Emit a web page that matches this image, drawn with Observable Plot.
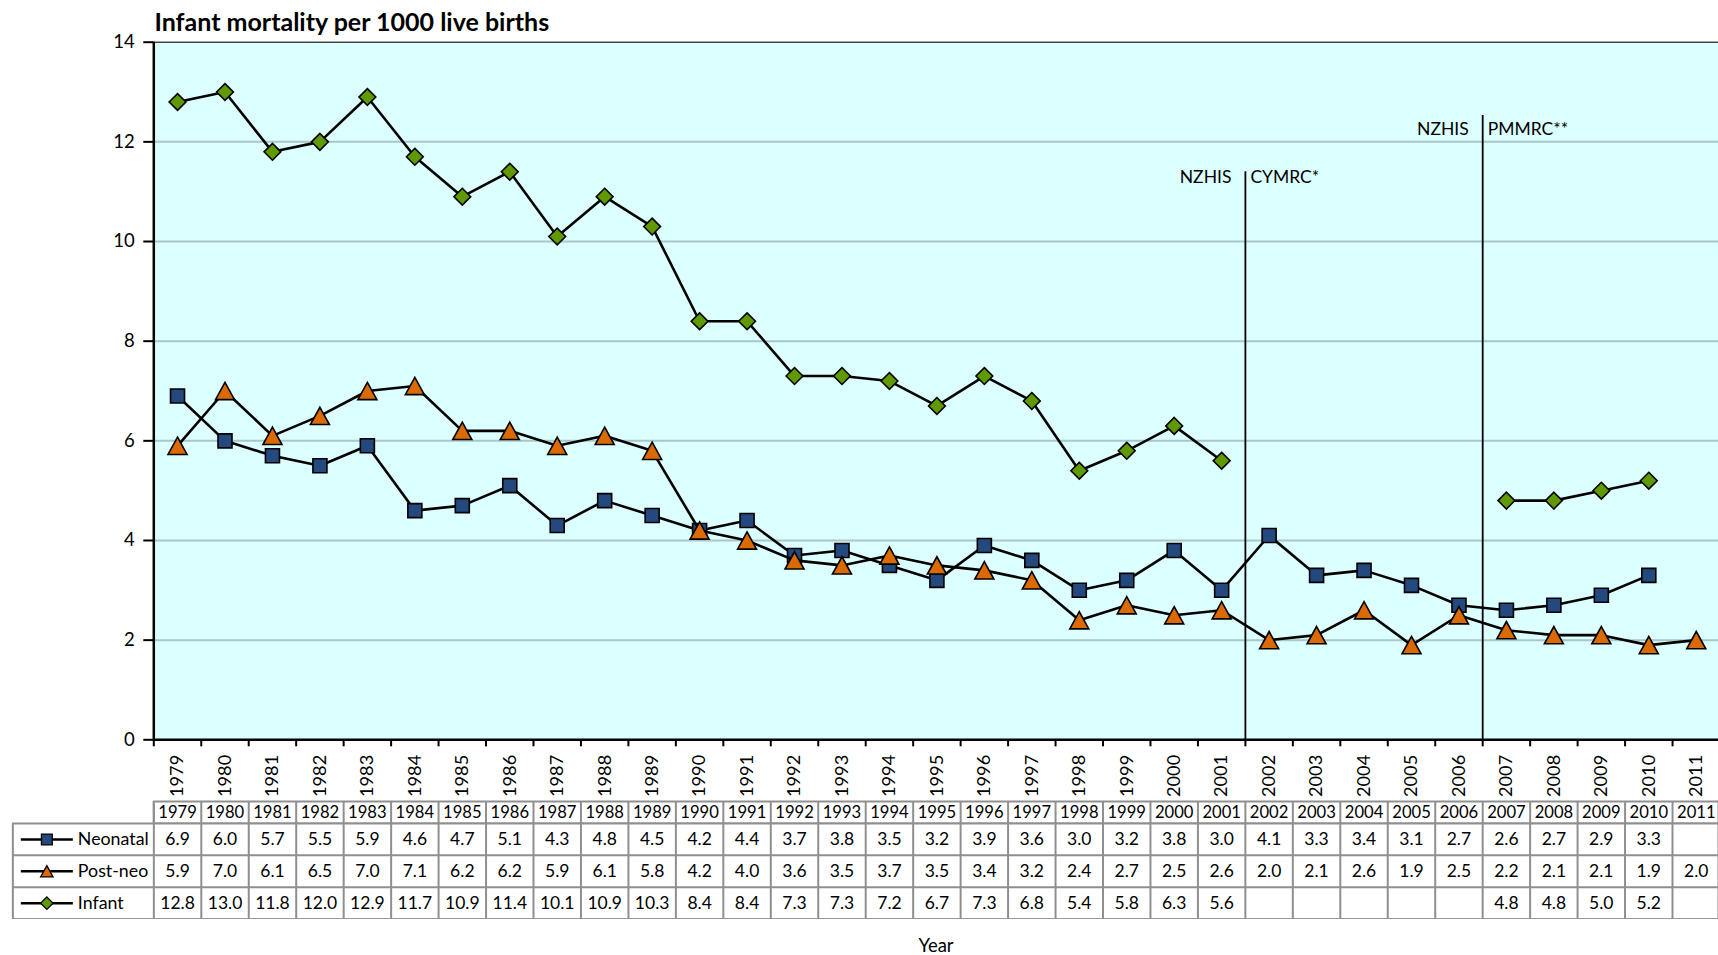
<!DOCTYPE html>
<html>
<head>
<meta charset="utf-8">
<script src="https://cdn.jsdelivr.net/npm/d3@7"></script>
<script src="https://cdn.jsdelivr.net/npm/@observablehq/plot@0.6"></script>
<style>
  html, body { margin: 0; padding: 0; background: #ffffff; overflow: hidden; }
  #root { position: relative; width: 1718px; height: 955px; font-family: Lato, "Open Sans", sans-serif; color: #000; }
  #root > * { position: absolute; }
  .title { left: 154.5px; top: 9px; font-size: 25px; font-weight: 700; line-height: 1; white-space: nowrap; }
  .xlabel { left: 936px; top: 934px; transform: translateX(-50%); font-size: 18.5px; line-height: 1.2; }
</style>
</head>
<body>
<div id="root">
  <div class="title">Infant mortality per 1000 live births</div>
</div>
<script>
// ---------------- data ----------------
const years = [1979, 1980, 1981, 1982, 1983, 1984, 1985, 1986, 1987, 1988, 1989, 1990, 1991, 1992, 1993, 1994, 1995,
               1996, 1997, 1998, 1999, 2000, 2001, 2002, 2003, 2004, 2005, 2006, 2007, 2008, 2009, 2010, 2011];
const neonatal = [6.9, 6.0, 5.7, 5.5, 5.9, 4.6, 4.7, 5.1, 4.3, 4.8, 4.5, 4.2, 4.4, 3.7, 3.8, 3.5, 3.2,
                  3.9, 3.6, 3.0, 3.2, 3.8, 3.0, 4.1, 3.3, 3.4, 3.1, 2.7, 2.6, 2.7, 2.9, 3.3, null];
const postNeo = [5.9, 7.0, 6.1, 6.5, 7.0, 7.1, 6.2, 6.2, 5.9, 6.1, 5.8, 4.2, 4.0, 3.6, 3.5, 3.7, 3.5,
                 3.4, 3.2, 2.4, 2.7, 2.5, 2.6, 2.0, 2.1, 2.6, 1.9, 2.5, 2.2, 2.1, 2.1, 1.9, 2.0];
const infant = [12.8, 13.0, 11.8, 12.0, 12.9, 11.7, 10.9, 11.4, 10.1, 10.9, 10.3, 8.4, 8.4, 7.3, 7.3, 7.2, 6.7,
                7.3, 6.8, 5.4, 5.8, 6.3, 5.6, null, null, null, null, null, 4.8, 4.8, 5.0, 5.2, null];
const seriesNames = ["Neonatal", "Post-neo", "Infant"];
const yTicks = [0, 2, 4, 6, 8, 10, 12, 14];
// data-source change annotations (x = boundary between years)
const annX = [2001.5, 2006.5];
const annTop = [11.4, 12.53];
const annLabelY = [11.28, 12.26];
const annLeft = ["NZHIS", "NZHIS"];
const annRight = ["CYMRC*", "PMMRC**"];

// ---------------- derived tables ----------------
const seriesValues = [neonatal, postNeo, infant];
const rows = years.map((yr, i) => ({year: yr, neonatal: neonatal[i], postNeo: postNeo[i], infant: infant[i]}));
const boundaries = years.map(y => y - 0.5).concat([years[years.length - 1] + 0.5]);
const cells = [];
seriesValues.forEach((vals, r) => vals.forEach((v, i) => { if (v != null) cells.push({year: years[i], row: r, value: v}); }));
const ann = annX.map((x, i) => ({x, top: annTop[i], ly: annLabelY[i], left: annLeft[i], right: annRight[i]}));

// ---------------- styles ----------------
const W = 1718;
const xDomain = [boundaries[0], boundaries[boundaries.length - 1]];
const xRange = [153.3, 1719.5];
const colors = {neonatal: "#23497f", postNeo: "#dc6a02", infant: "#5f9a00"};
const font = "Lato, 'Open Sans', sans-serif";

// custom Excel-like markers
const rOf = size => Math.sqrt(size / Math.PI);
const squareSym = {draw(c, size) { const r = rOf(size); c.rect(-r, -r, 2 * r, 2 * r); }};
const diamondSym = {draw(c, size) { const r = rOf(size); c.moveTo(0, -r); c.lineTo(r, 0); c.lineTo(0, r); c.lineTo(-r, 0); c.closePath(); }};
const triangleSym = {draw(c, size) { const r = rOf(size); const h = 0.91 * r; c.moveTo(0, -h); c.lineTo(r, h); c.lineTo(-r, h); c.closePath(); }};
const lineSym = {draw(c, size) { const r = rOf(size); c.moveTo(-r, 0); c.lineTo(r, 0); }};
const syms = [squareSym, triangleSym, diamondSym];
const symColors = [colors.neonatal, colors.postNeo, colors.infant];
const keys = ["neonatal", "postNeo", "infant"];
const bigR = [7, 9.5, 8.4];
const smallR = [5.4, 6.2, 6.2];

const root = document.getElementById("root");

// ---------------- main chart ----------------
const seriesMarks = [];
keys.forEach((k, s) => {
  seriesMarks.push(Plot.line(rows, {x: "year", y: k, stroke: "#000", strokeWidth: 2.6}));
  seriesMarks.push(Plot.dot(rows, {x: "year", y: k, symbol: syms[s], r: bigR[s], fill: symColors[s], stroke: "#000", strokeWidth: 1.6}));
});

const chart = Plot.plot({
  width: W, height: 800,
  marginLeft: 153.3, marginRight: 0, marginTop: 41.7, marginBottom: 60.7,
  style: {fontFamily: font, fontSize: "18px", color: "#000", background: "transparent"},
  x: {domain: xDomain, range: xRange},
  y: {domain: [0, 14]},
  marks: [
    Plot.frame({fill: "#dcffff", stroke: "none"}),
    Plot.ruleY(yTicks.filter(v => v > 0 && v < 14), {stroke: "#a9c7c7", strokeWidth: 2}),
    Plot.ruleY([14], {stroke: "#444", strokeWidth: 1.5}),
    Plot.axisY({ticks: yTicks, tickSize: 10, tickPadding: 9, strokeWidth: 2, fontSize: 18.5, label: null}),
    Plot.axisX({ticks: boundaries, tickSize: 7, tickFormat: () => "", strokeWidth: 2, label: null}),
    Plot.text(years, {x: d => d, frameAnchor: "bottom", dy: 15, rotate: -90, textAnchor: "end", lineAnchor: "middle", fontSize: 18.2, text: d => String(d)}),
    Plot.ruleX(ann, {x: "x", y1: 0, y2: "top", stroke: "#000", strokeWidth: 1.8}),
    Plot.text(ann, {x: "x", y: "ly", text: "left", textAnchor: "end", dx: -14, fontSize: 17.5}),
    Plot.text(ann, {x: "x", y: "ly", text: "right", textAnchor: "start", dx: 5, fontSize: 17.5}),
    ...seriesMarks,
    Plot.ruleY([0], {stroke: "#000", strokeWidth: 2.5}),
    Plot.ruleX([xDomain[0]], {stroke: "#000", strokeWidth: 2.5})
  ]
});
chart.style.left = "0px"; chart.style.top = "0px";
root.appendChild(chart);

// ---------------- data table: header row ----------------
const border = {stroke: "#8f8f8f", strokeWidth: 2};
const header = Plot.plot({
  width: W, height: 24,
  marginLeft: 153.3, marginRight: 0, marginTop: 1, marginBottom: 1,
  style: {fontFamily: font, fontSize: "16.5px", color: "#000", background: "transparent"},
  x: {domain: xDomain, range: xRange, axis: null},
  marks: [
    Plot.frame(border),
    Plot.ruleX(boundaries, border),
    Plot.text(years, {x: d => d, frameAnchor: "middle", fontSize: 16.6, text: d => String(d)})
  ]
});
header.style.left = "0px"; header.style.top = "799.7px";
root.appendChild(header);

// ---------------- data table: body ----------------
const rowIdx = seriesNames.map((_, i) => i);
const legendMarks = rowIdx.map(i =>
  Plot.dot([i], {y: d => d + 0.5, frameAnchor: "left", dx: 34, symbol: syms[i], r: smallR[i], fill: symColors[i], stroke: "#000", strokeWidth: 1.3})
);
const body = Plot.plot({
  width: W, height: 97.6,
  marginLeft: 12.3, marginRight: 0, marginTop: 1, marginBottom: 1,
  style: {fontFamily: font, fontSize: "17.5px", color: "#000", background: "transparent"},
  x: {domain: xDomain, range: xRange, axis: null},
  y: {domain: [0, seriesNames.length], reverse: true, axis: null},
  marks: [
    Plot.frame(border),
    Plot.ruleX(boundaries, border),
    Plot.ruleY(rowIdx.slice(1), border),
    Plot.text(cells, {x: "year", y: d => d.row + 0.5, text: d => d.value.toFixed(1), fontSize: 17.5}),
    Plot.dot(rowIdx, {y: d => d + 0.5, frameAnchor: "left", dx: 34, symbol: lineSym, r: 26, fill: "none", stroke: "#000", strokeWidth: 2.5}),
    ...legendMarks,
    Plot.text(seriesNames, {y: (d, i) => i + 0.5, frameAnchor: "left", dx: 65, textAnchor: "start", fontSize: 17.8})
  ]
});
body.style.left = "0px"; body.style.top = "821.7px";
root.appendChild(body);

// ---------------- x axis title ----------------
const xl = document.createElement("div");
xl.className = "xlabel";
xl.textContent = "Year";
root.appendChild(xl);
</script>
</body>
</html>
